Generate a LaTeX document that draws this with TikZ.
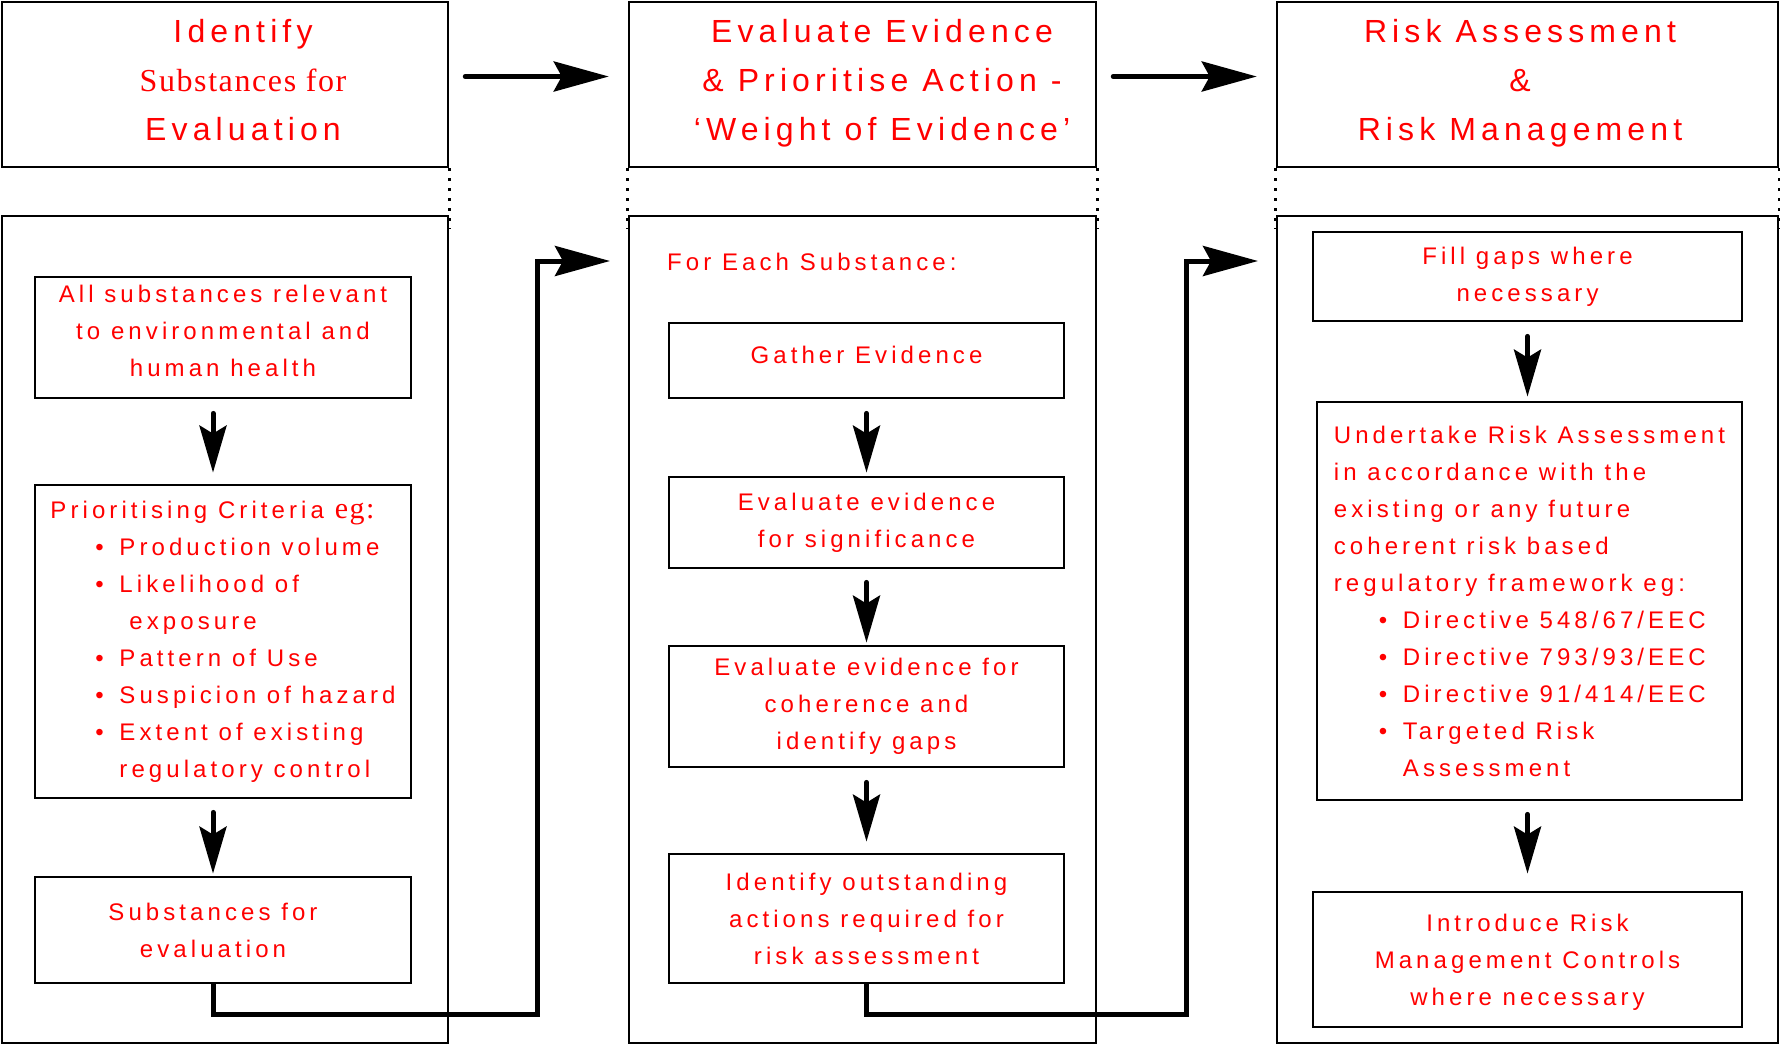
\documentclass[tikz,border=0pt]{standalone}
\usepackage{fontspec}
\setmainfont{Liberation Sans}[LetterSpace=17]
\newfontfamily\headfont{Liberation Sans}[LetterSpace=16]
\newfontfamily\tms{Liberation Serif}[LetterSpace=5]
\usetikzlibrary{arrows.meta}
\definecolor{txtred}{RGB}{255,0,0}
\newcommand{\bul}{\hspace*{45pt}\makebox[24pt][l]{\textbullet}}
\newcommand{\cnt}{\hspace*{69pt}}

\begin{document}
\begin{tikzpicture}[x=1pt,y=-1pt,
    panel/.style 2 args={draw,line width=2.5pt,minimum width=#1,minimum height=#2,inner sep=0pt},
    title/.style={text=txtred,align=center,inner sep=0pt,font=\headfont\fontsize{32}{49}\selectfont},
    stagebox/.style 2 args={draw,line width=2.8pt,minimum width=#1,minimum height=#2,inner sep=0pt,
      text=txtred,align=center,font=\fontsize{24}{37}\selectfont},
    dots/.style={line width=3pt,dash pattern=on 3pt off 7pt},
    conn/.style={line width=5pt,line cap=round,-{Stealth[length=55pt,width=30pt,inset=8pt]}},
    link/.style={line width=5pt,-{Stealth[length=55pt,width=30pt,inset=8pt]}},
    down/.style={line width=5pt,line cap=round,-{Stealth[length=47pt,width=27pt,inset=8pt]}}]
  \useasboundingbox (0,0) rectangle (1780,1045);

  % Column headers
  \node[panel={446}{165}] (h1) at (225,84.5) {};
  \node[panel={467}{165}] (h2) at (862.5,84.5) {};
  \node[panel={501}{165}] (h3) at (1527.5,84.5) {};
  \node[title] (t1) at (243,80) {Identify\\{\tms Substances for}\\Evaluation};
  \node[title] (t2) at (882,83) {Evaluate Evidence\\\& Prioritise Action -\\‘Weight of Evidence’};
  \node[title] (t3) at (1520,83) {Risk Assessment\\\&\\Risk Management};

  % Column bodies
  \node[panel={446}{827}] (b1) at (225,629.5) {};
  \node[panel={467}{827}] (b2) at (862.5,629.5) {};
  \node[panel={501}{827}] (b3) at (1527.5,629.5) {};

  % Dotted joins between header and body
  \foreach \c in {1,2,3} {
    \draw[dots] (h\c.south east) -- ([yshift=-14pt]b\c.north east);
  }
  \foreach \c in {2,3} {
    \draw[dots] (h\c.south west) -- ([yshift=-14pt]b\c.north west);
  }

  % Column 1
  \node[stagebox={376}{121},text depth=14pt] (allsub) at (223,337.5) {All substances relevant\\to environmental and\\human health};
  \node[stagebox={376}{313},align=left] (crit) at (223,641.5) {Prioritising Criteria {\tms\fontsize{30}{37}\selectfont eg:}\\
    \bul Production volume\\\bul Likelihood of\\\hspace*{79pt}exposure\\\bul Pattern of Use\\
    \bul Suspicion of hazard\\\bul Extent of existing\\\cnt regulatory control};
  \node[stagebox={376}{106}] (subs) at (223,930) {Substances for\hspace*{20pt}\\evaluation\hspace*{20pt}};

  % Column 2
  \node[text=txtred,font=\fontsize{24}{37}\selectfont,anchor=west,inner sep=0pt] (each) at (667,262) {For Each Substance:};
  \node[stagebox={395}{75},text depth=11pt] (gather) at (866.5,360.5) {Gather Evidence};
  \node[stagebox={395}{91}] (sig) at (866.5,522.5) {Evaluate evidence\\for significance};
  \node[stagebox={395}{121}] (coh) at (866.5,706.5) {Evaluate evidence for\\coherence and\\identify gaps};
  \node[stagebox={395}{129}] (ident) at (866.5,918.5) {Identify outstanding\\actions required for\\risk assessment};

  % Column 3
  \node[stagebox={429}{89}] (fill) at (1527.5,276.5) {Fill gaps where\\necessary};
  \node[stagebox={425}{398},align=left] (under) at (1529.5,601) {Undertake Risk Assessment\\in accordance with the\\
    existing or any future\\coherent risk based\\regulatory framework eg:\\\bul Directive 548/67/EEC\\
    \bul Directive 793/93/EEC\\\bul Directive 91/414/EEC\\\bul Targeted Risk\\\cnt Assessment};
  \node[stagebox={429}{135},text depth=0pt] (intro) at (1527.5,959.5) {Introduce Risk\\Management Controls\\where necessary};

  % Arrows between headers
  \draw[conn] ([xshift=16pt,yshift=8pt]h1.east) -- ([xshift=-19pt,yshift=8pt]h2.west);
  \draw[conn] ([xshift=16pt,yshift=8pt]h2.east) -- ([xshift=-19pt,yshift=8pt]h3.west);

  % Arrows inside columns
  \draw[down,shorten <=14pt,shorten >=11pt] ([xshift=-10pt]allsub.south) -- ([xshift=-10pt]crit.north);
  \draw[down,shorten <=13pt,shorten >=2pt] ([xshift=-10pt]crit.south) -- ([xshift=-10pt]subs.north);
  \draw[down,shorten <=14pt,shorten >=3pt] (gather) -- (sig);
  \draw[down,shorten <=13pt,shorten >=2pt] (sig) -- (coh);
  \draw[down,shorten <=14pt,shorten >=11pt] (coh) -- (ident);
  \draw[down,shorten <=14pt,shorten >=4pt] (fill.south) -- (fill.south |- under.north);
  \draw[down,shorten <=13pt,shorten >=17pt] (under.south -| intro.north) -- (intro.north);

  % Links from the foot of one column to the next
  \coordinate (k1) at (537,1014);
  \coordinate (e1) at (610,261);
  \coordinate (k2) at (1186,1014);
  \coordinate (e2) at (1258,261);
  \draw[link] ([xshift=-10pt]subs.south) |- (k1) |- (e1);
  \draw[link] (ident.south) |- (k2) |- (e2);
\end{tikzpicture}
\end{document}
